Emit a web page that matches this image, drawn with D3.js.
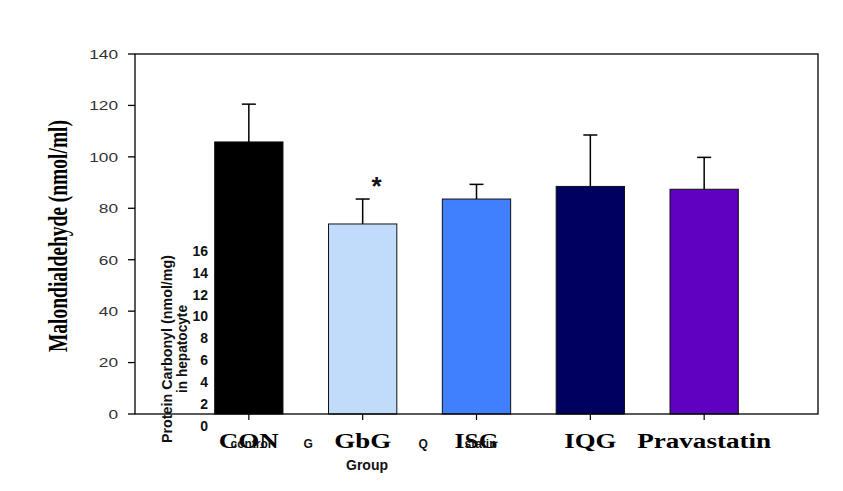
<!DOCTYPE html>
<html>
<head>
<meta charset="utf-8">
<script src="https://cdn.jsdelivr.net/npm/d3@7"></script>
<style>
  html, body { margin: 0; padding: 0; background: #fff; }
  svg { display: block; }
</style>
</head>
<body>
<svg id="chart" width="843" height="491"></svg>
<script>
// ---- data ----
const categories = ["CON", "GbG", "ISG", "IQG", "Pravastatin"];
const means = [105.8, 73.9, 83.6, 88.5, 87.4];
const errors = [14.7, 9.7, 5.7, 20.0, 12.4];
const barColors = ["#000000", "#c0dcfa", "#4080ff", "#000060", "#6000c0"];
const yTicks = [0, 20, 40, 60, 80, 100, 120, 140];
const significant = [false, true, false, false, false];
// overlaid remnants of a second chart
const overlayTicks = [0, 2, 4, 6, 8, 10, 12, 14, 16];
const overlayCats = ["control", "G", "I", "Q", "statin"];

(function () {
const svg = d3.select("#chart");
const pLeft = 135, pRight = 818, pTop = 54, pBottom = 414;

const x = d3.scaleBand().domain(categories).range([pLeft, pRight])
  .paddingInner(0.4).paddingOuter(0.7);
const y = d3.scaleLinear().domain([0, 140]).range([pBottom, pTop]);

// bars
svg.selectAll("rect.bar").data(categories).join("rect")
  .attr("class", "bar")
  .attr("x", d => x(d))
  .attr("width", x.bandwidth())
  .attr("y", (d, i) => y(means[i]))
  .attr("height", (d, i) => y(0) - y(means[i]))
  .attr("fill", (d, i) => barColors[i])
  .attr("stroke", "#111")
  .attr("stroke-width", 1);

// error bars (upper only)
const cx = d => x(d) + x.bandwidth() / 2;
svg.selectAll("line.err").data(categories).join("line")
  .attr("class", "err")
  .attr("x1", cx).attr("x2", cx)
  .attr("y1", (d, i) => y(means[i]))
  .attr("y2", (d, i) => y(means[i] + errors[i]))
  .attr("stroke", "#000").attr("stroke-width", 1.5);
svg.selectAll("line.cap").data(categories).join("line")
  .attr("class", "cap")
  .attr("x1", d => cx(d) - 7).attr("x2", d => cx(d) + 7)
  .attr("y1", (d, i) => y(means[i] + errors[i]))
  .attr("y2", (d, i) => y(means[i] + errors[i]))
  .attr("stroke", "#000").attr("stroke-width", 1.5);

// significance star
const sigIdx = categories.map((d, i) => i).filter(i => significant[i]);
svg.selectAll("text.star").data(sigIdx).join("text")
  .attr("class", "star")
  .attr("x", i => cx(categories[i]) + 14)
  .attr("y", i => y(means[i] + errors[i]) - 4)
  .attr("text-anchor", "middle")
  .attr("font-family", "Liberation Sans, Arial, sans-serif")
  .attr("font-weight", "bold")
  .attr("font-size", 26)
  .attr("fill", "#111")
  .text("*");

// frame
svg.append("rect")
  .attr("x", pLeft).attr("y", pTop)
  .attr("width", pRight - pLeft).attr("height", pBottom - pTop)
  .attr("fill", "none").attr("stroke", "#000").attr("stroke-width", 1.3);

// y ticks
svg.selectAll("line.ytick").data(yTicks).join("line")
  .attr("class", "ytick")
  .attr("x1", pLeft - 7).attr("x2", pLeft)
  .attr("y1", d => y(d)).attr("y2", d => y(d))
  .attr("stroke", "#000").attr("stroke-width", 1.3);
svg.selectAll("g.ylab").data(yTicks).join("g")
  .attr("class", "ylab")
  .attr("transform", d => `translate(118,${y(d) + 4.8}) scale(1.33,1)`)
  .append("text")
  .attr("text-anchor", "end")
  .attr("font-family", "Liberation Sans, Arial, sans-serif")
  .attr("font-size", 13)
  .attr("fill", "#333")
  .text(d => d);

// x ticks
svg.selectAll("line.xtick").data(categories).join("line")
  .attr("class", "xtick")
  .attr("x1", cx).attr("x2", cx)
  .attr("y1", pBottom).attr("y2", pBottom + 6)
  .attr("stroke", "#000").attr("stroke-width", 1.2);

// category labels
const catWidths = [60, 57, 44, 52, 134];
svg.selectAll("text.cat").data(categories).join("text")
  .attr("class", "cat")
  .attr("x", cx).attr("y", 448)
  .attr("text-anchor", "middle")
  .attr("font-family", "Liberation Serif, Times New Roman, serif")
  .attr("font-weight", "bold")
  .attr("font-size", 20)
  .attr("textLength", (d, i) => catWidths[i])
  .attr("lengthAdjust", "spacingAndGlyphs")
  .attr("fill", "#000")
  .text(d => d);

// y title
svg.append("text")
  .attr("transform", "translate(67,236) rotate(-90)")
  .attr("text-anchor", "middle")
  .attr("font-family", "Liberation Serif, Times New Roman, serif")
  .attr("font-weight", "bold")
  .attr("font-size", 28)
  .attr("textLength", 232)
  .attr("lengthAdjust", "spacingAndGlyphs")
  .attr("fill", "#000")
  .text("Malondialdehyde (nmol/ml)");

// ---- overlaid remnants ----
const y2 = d3.scaleLinear().domain([0, 16]).range([426, 251]);
svg.selectAll("text.o2").data(overlayTicks).join("text")
  .attr("class", "o2")
  .attr("x", 208).attr("y", d => y2(d) + 4.8)
  .attr("text-anchor", "end")
  .attr("font-family", "Liberation Sans, Arial, sans-serif")
  .attr("font-weight", "bold")
  .attr("font-size", 14)
  .attr("fill", "#111")
  .text(d => d);

svg.append("text")
  .attr("transform", "translate(172,349) rotate(-90)")
  .attr("text-anchor", "middle")
  .attr("font-family", "Liberation Sans, Arial, sans-serif")
  .attr("font-weight", "bold")
  .attr("font-size", 14)
  .attr("textLength", 188)
  .attr("lengthAdjust", "spacingAndGlyphs")
  .attr("fill", "#111")
  .text("Protein Carbonyl  (nmol/mg)");
svg.append("text")
  .attr("transform", "translate(187,349) rotate(-90)")
  .attr("text-anchor", "middle")
  .attr("font-family", "Liberation Sans, Arial, sans-serif")
  .attr("font-weight", "bold")
  .attr("font-size", 14)
  .attr("textLength", 88)
  .attr("lengthAdjust", "spacingAndGlyphs")
  .attr("fill", "#111")
  .text("in hepatocyte");

const xo = d3.scalePoint().domain(overlayCats)
  .range([cx(categories[0]) + 2, cx(categories[2]) + 4]);
svg.selectAll("text.ocat").data(overlayCats).join("text")
  .attr("class", "ocat")
  .attr("x", d => xo(d)).attr("y", 448)
  .attr("text-anchor", "middle")
  .attr("font-family", "Liberation Sans, Arial, sans-serif")
  .attr("font-weight", "bold")
  .attr("font-size", 12)
  .attr("fill", "#111")
  .text(d => d);

svg.append("text")
  .attr("x", 367).attr("y", 470)
  .attr("text-anchor", "middle")
  .attr("font-family", "Liberation Sans, Arial, sans-serif")
  .attr("font-weight", "bold")
  .attr("font-size", 14)
  .attr("fill", "#111")
  .text("Group");
})();
</script>
</body>
</html>
